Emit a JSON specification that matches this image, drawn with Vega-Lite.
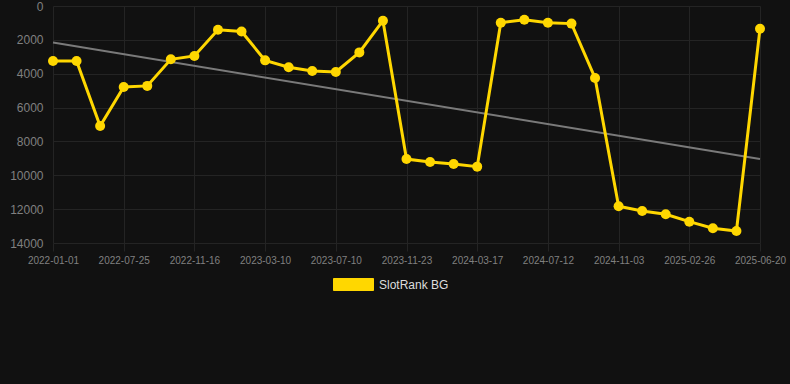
{
  "$schema": "https://vega.github.io/schema/vega-lite/v6.json",
  "width": 707,
  "height": 237,
  "autosize": {"type": "none"},
  "padding": {"left": 53, "top": 6, "right": 30, "bottom": 141},
  "background": "#111111",
  "config": {
    "view": {"stroke": null},
    "font": "Liberation Sans",
    "axis": {
      "domain": false,
      "gridColor": "#242424",
      "gridWidth": 1,
      "tickColor": "#242424",
      "labelColor": "#808080",
      "title": null
    }
  },
  "datasets": {
    "rank": [
      {"date": "2022-01-01", "rank": 3250},
      {"date": "2022-03-10", "rank": 3250},
      {"date": "2022-05-17", "rank": 7090},
      {"date": "2022-07-25", "rank": 4780},
      {"date": "2022-09-01", "rank": 4720},
      {"date": "2022-10-09", "rank": 3150},
      {"date": "2022-11-16", "rank": 2950},
      {"date": "2022-12-24", "rank": 1400},
      {"date": "2023-01-31", "rank": 1510},
      {"date": "2023-03-10", "rank": 3210},
      {"date": "2023-04-20", "rank": 3620},
      {"date": "2023-05-31", "rank": 3840},
      {"date": "2023-07-10", "rank": 3900},
      {"date": "2023-08-24", "rank": 2740},
      {"date": "2023-10-08", "rank": 870},
      {"date": "2023-11-23", "rank": 9040},
      {"date": "2024-01-01", "rank": 9210},
      {"date": "2024-02-08", "rank": 9330},
      {"date": "2024-03-17", "rank": 9490},
      {"date": "2024-04-25", "rank": 985},
      {"date": "2024-06-03", "rank": 810},
      {"date": "2024-07-12", "rank": 985},
      {"date": "2024-08-19", "rank": 1040},
      {"date": "2024-09-26", "rank": 4250},
      {"date": "2024-11-03", "rank": 11830},
      {"date": "2024-12-11", "rank": 12110},
      {"date": "2025-01-19", "rank": 12300},
      {"date": "2025-02-26", "rank": 12740},
      {"date": "2025-04-05", "rank": 13130},
      {"date": "2025-05-13", "rank": 13290},
      {"date": "2025-06-20", "rank": 1340}
    ],
    "trend": [
      {"date": "2022-01-01", "rank": 2160},
      {"date": "2025-06-20", "rank": 9040}
    ]
  },
  "encoding": {
    "x": {
      "field": "date",
      "type": "ordinal",
      "scale": {"type": "point", "padding": 0},
      "axis": {
        "values": ["2022-01-01", "2022-07-25", "2022-11-16", "2023-03-10", "2023-07-10", "2023-11-23", "2024-03-17", "2024-07-12", "2024-11-03", "2025-02-26", "2025-06-20"],
        "labelAngle": 0,
        "labelAlign": "center",
        "labelBaseline": "top",
        "labelOverlap": false,
        "labelFlush": false,
        "labelFontSize": 10,
        "grid": true,
        "tickSize": 8,
        "labelPadding": 4
      }
    },
    "y": {
      "field": "rank",
      "type": "quantitative",
      "scale": {"domain": [0, 14000], "reverse": true, "nice": false},
      "axis": {"values": [0, 2000, 4000, 6000, 8000, 10000, 12000, 14000], "format": "d", "labelOverlap": false, "labelFontSize": 12, "tickSize": 0, "labelPadding": 10}
    }
  },
  "layer": [
    {
      "data": {"name": "trend"},
      "mark": {"type": "line", "color": "#7a7a7a", "strokeWidth": 2}
    },
    {
      "data": {"name": "rank"},
      "mark": {"type": "line", "strokeWidth": 3},
      "encoding": {
        "color": {
          "datum": "SlotRank BG",
          "scale": {"range": ["#FFD700"]},
          "legend": {
            "title": null,
            "orient": "none",
            "legendX": 280,
            "legendY": 258,
            "symbolType": "M-1,-0.3H1V0.3H-1Z",
            "symbolSize": 1600,
            "symbolFillColor": "#FFD700",
            "symbolStrokeColor": "#E6C200",
            "symbolStrokeWidth": 1,
            "labelColor": "#dddddd",
            "labelFontSize": 12,
            "labelOffset": 5
          }
        }
      }
    },
    {
      "data": {"name": "rank"},
      "mark": {"type": "point", "filled": true, "size": 100, "opacity": 1, "color": "#FFD700"}
    }
  ]
}
